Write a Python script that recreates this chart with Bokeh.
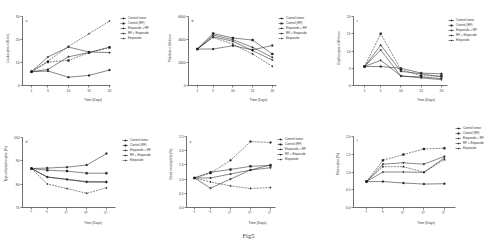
import math
from bokeh.plotting import figure
from bokeh.layouts import column, row
from bokeh.models import (Range1d, Legend, LegendItem, Label, Title, FixedTicker,
                          PrintfTickFormatter)
from bokeh.embed import file_html
from bokeh.resources import INLINE

# ---------------- data ----------------
days = [1, 5, 10, 15, 20]
series_names = ["Control tumor", "Control (RF)", "Etoposide + RF", "RF + Etoposide", "Etoposide"]
x_label = "Time (Days)"

# a: leukocytes
a_control_tumor = [6.0, 6.3, 3.6, 4.4, 6.7]
a_control_rf = [6.0, 10.2, 10.9, 14.3, 16.5]
a_etoposide_rf = [6.0, 7.0, 12.5, 14.3, 16.7]
a_rf_etoposide = [6.0, 12.4, 16.7, 14.6, 14.3]
a_etoposide = [6.0, 10.6, 17.0, 22.5, 28.0]
a_yticks = [0, 10, 20, 30]

# b: platelets
b_control_tumor = [3170, 3170, 3460, 3100, 3480]
b_control_rf = [3170, 4530, 4130, 3950, 2740]
b_etoposide_rf = [3170, 4390, 3980, 3320, 2450]
b_rf_etoposide = [3170, 4240, 3840, 3030, 2220]
b_etoposide = [3170, 4180, 3600, 2740, 1670]
b_yticks = [0, 2000, 4000, 6000]

# c: erythrocytes
c_control_tumor = [5.5, 5.5, 5.0, 3.6, 3.4]
c_control_rf = [5.5, 15.0, 4.6, 2.8, 2.8]
c_etoposide_rf = [5.5, 11.7, 4.1, 3.4, 2.5]
c_rf_etoposide = [5.5, 10.3, 2.7, 2.5, 2.0]
c_etoposide = [5.5, 7.3, 2.8, 2.2, 1.7]
c_yticks = [0, 5, 10, 15, 20]

# d: typical lymphocytes
d_control_tumor = [86.7, 86.9, 87.3, 88.2, 93.1]
d_control_rf = [86.7, 86.0, 85.6, 84.7, 84.7]
d_etoposide_rf = [86.7, 83.1, 82.1, 81.1, 81.1]
d_rf_etoposide = [86.7, 83.0, 82.0, 80.9, 80.8]
d_etoposide = [86.7, 80.1, 78.1, 76.1, 78.4]
d_yticks = [70, 80, 90, 100]

# e: band neutrophils
e_control_tumor = [1.04, 1.21, 1.66, 2.32, 2.29]
e_control_rf = [1.04, 1.24, 1.34, 1.45, 1.48]
e_etoposide_rf = [1.04, 1.04, 1.18, 1.32, 1.50]
e_rf_etoposide = [1.04, 0.68, 1.00, 1.32, 1.40]
e_etoposide = [1.04, 0.90, 0.76, 0.67, 0.70]
e_yticks = [0.0, 0.5, 1.0, 1.5, 2.0, 2.5]

# f: monocytes
f_control_tumor = [0.73, 0.73, 0.69, 0.66, 0.67]
f_control_rf = [0.73, 1.33, 1.49, 1.65, 1.67]
f_etoposide_rf = [0.73, 1.15, 1.15, 0.99, 1.35]
f_rf_etoposide = [0.73, 1.22, 1.26, 1.22, 1.44]
f_etoposide = [0.73, 1.00, 1.00, 0.99, 1.40]
f_yticks = [0.0, 0.5, 1.0, 1.5, 2.0]

FONT = "Liberation Sans"
MARKERS = ["circle", "square", "triangle", "inverted_triangle", "diamond"]

TOP_ROW = dict(h=110, frT=10, axB=85)
BOTTOM_ROW = dict(h=132, frT=10, axB=97)


def panel(letter, ylabel, values, yticks, ylim, xlim, w, rowcfg, axL, axR, axT,
          dashed, rotate, legX, legT, yfmt="%d"):
    # the frame covers the axis box plus the legend area; the axes are bounded
    h = rowcfg["h"]
    frT = rowcfg["frT"]
    axB = rowcfg["axB"]
    frR = w - 2
    fw = frR - axL
    fh = axB - frT
    xs, xe = xlim
    ys, ye = ylim
    x_end = xs + fw * (xe - xs) / (axR - axL)
    y_end = ys + fh * (ye - ys) / (axB - axT)
    p = figure(width=w, height=h, x_range=Range1d(xs, x_end), y_range=Range1d(ys, y_end),
               output_backend="svg", toolbar_location=None,
               min_border_left=axL, min_border_right=w - frR,
               min_border_top=frT, min_border_bottom=h - axB)
    p.outline_line_color = None
    p.xgrid.visible = False
    p.ygrid.visible = False
    p.background_fill_color = "white"
    p.border_fill_color = "white"
    p.xaxis.ticker = FixedTicker(ticks=days)
    p.yaxis.ticker = FixedTicker(ticks=yticks)
    p.yaxis.formatter = PrintfTickFormatter(format=yfmt)
    p.xaxis.bounds = (xs, xe)
    p.yaxis.bounds = (ys, ye)
    for ax in (p.xaxis[0], p.yaxis[0]):
        ax.axis_line_width = 0.7
        ax.axis_line_color = "#333333"
        ax.major_tick_line_color = "#333333"
        ax.major_tick_line_width = 0.6
        ax.major_tick_out = 2
        ax.major_tick_in = 0
        ax.minor_tick_line_color = None
        ax.major_label_text_font = FONT
        ax.major_label_text_font_size = "3.3px"
        ax.major_label_text_color = "#333333"
        ax.major_label_standoff = 1
        ax.axis_label_text_font = FONT
        ax.axis_label_text_font_size = "3.3px"
        ax.axis_label_text_font_style = "normal"
        ax.axis_label_text_color = "#333333"
        ax.axis_label_standoff = 3
    p.xaxis.axis_label = x_label
    p.yaxis.axis_label = ylabel
    if rotate:
        p.xaxis.major_label_orientation = math.pi / 4
    items = []
    for i, (name, vals) in enumerate(zip(series_names, values)):
        ln = p.line(days, vals, line_color="#222222", line_width=0.55,
                    line_dash="2 1" if dashed[i] else "solid")
        sc = p.scatter(days, vals, marker=MARKERS[i], size=2.0,
                       fill_color="#222222", line_color="#222222", line_width=0.3)
        items.append(LegendItem(label=name, renderers=[ln, sc]))
    n = len(items)
    item_h = 4
    spacing = 1
    leg_h = n * item_h + (n - 1) * spacing
    legend = Legend(items=items, location=(legX - axL, fh - (legT - frT) - leg_h),
                    label_text_font=FONT, label_text_font_size="3px",
                    label_text_color="#333333",
                    label_height=item_h, glyph_height=item_h, glyph_width=6,
                    label_standoff=2, spacing=spacing, padding=0, margin=0,
                    border_line_color=None, background_fill_alpha=0)
    p.add_layout(legend, "center")
    p.add_layout(Label(x=3, y=fh - (axT - frT) - 6, x_units="screen", y_units="screen",
                       text=letter, text_font=FONT, text_font_size="3.5px",
                       text_color="#444444"))
    return p


pa = panel("a", "Leukocytes x10\u00b3/mL",
           [a_control_tumor, a_control_rf, a_etoposide_rf, a_rf_etoposide, a_etoposide],
           a_yticks, (0, 30), (-1.19, 20.24), 165, TOP_ROW, 22, 110, 16,
           [False, True, False, False, True], False, 120, 16)
pb = panel("b", "Platelets x 10\u00b3/mm\u00b3",
           [b_control_tumor, b_control_rf, b_etoposide_rf, b_rf_etoposide, b_etoposide],
           b_yticks, (0, 6000), (-1.25, 21.0), 165, TOP_ROW, 21, 110, 16,
           [False, False, False, False, True], False, 111, 16)
pc = panel("c", "Erythrocytes x10\u2076/mm\u00b3",
           [c_control_tumor, c_control_rf, c_etoposide_rf, c_rf_etoposide, c_etoposide],
           c_yticks, (0, 20), (-1.72, 21.5), 170, TOP_ROW, 23, 117, 16,
           [False, True, False, False, False], False, 118, 18)
pd_ = panel("d", "Typical lymphocytes (%)",
            [d_control_tumor, d_control_rf, d_etoposide_rf, d_rf_etoposide, d_etoposide],
            d_yticks, (70, 100), (-1.28, 22.3), 165, BOTTOM_ROW, 22, 115, 27,
            [False, False, False, False, True], True, 122, 28)
pe = panel("e", "Band neutrophils (%)",
           [e_control_tumor, e_control_rf, e_etoposide_rf, e_rf_etoposide, e_etoposide],
           e_yticks, (0, 2.5), (-1.0, 21.25), 165, BOTTOM_ROW, 21, 110, 26,
           [True, False, False, False, True], True, 112, 27, "%.1f")
pf = panel("f", "Monocytes (%)",
           [f_control_tumor, f_control_rf, f_etoposide_rf, f_rf_etoposide, f_etoposide],
           f_yticks, (0, 2.0), (-2.17, 22.7), 170, BOTTOM_ROW, 23, 125, 26,
           [False, True, True, False, False], True, 125, 16, "%.1f")

pe.add_layout(Title(text="Fig5", align="left", offset=56, text_font="Liberation Serif",
                    text_font_size="6.5px", text_font_style="normal", standoff=4), "below")

layout = column(row(pa, pb, pc, spacing=0), row(pd_, pe, pf, spacing=0), spacing=0)

open("out.html", "w").write(file_html(layout, INLINE))
